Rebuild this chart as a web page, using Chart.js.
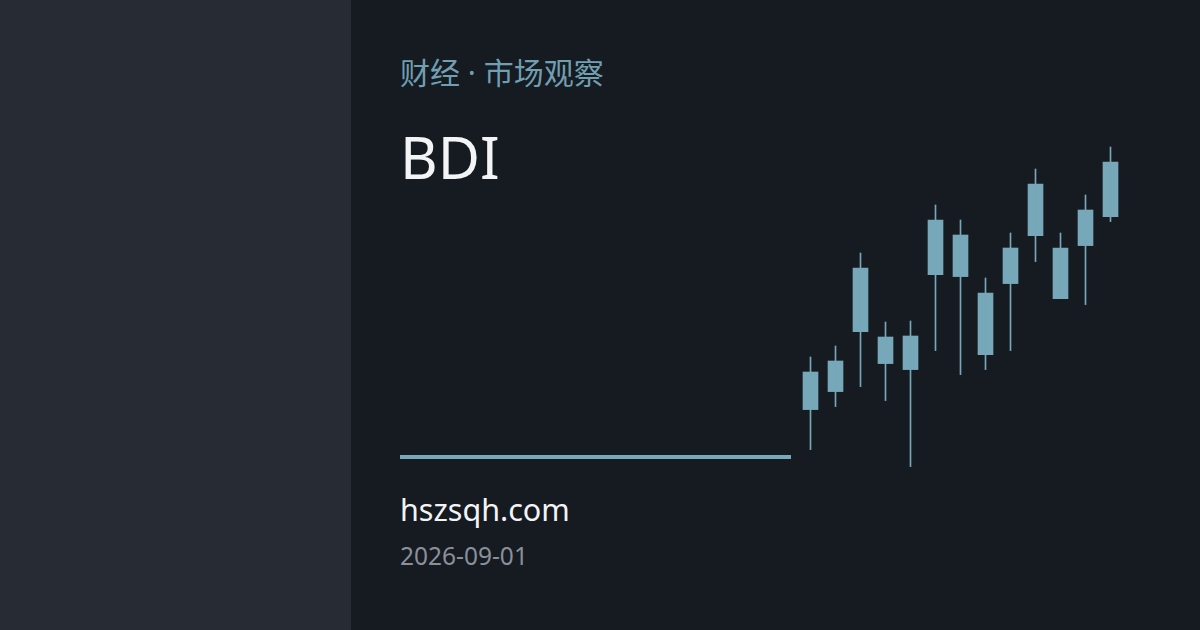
<!DOCTYPE html>
<html>
<head>
<meta charset="utf-8">
<script src="https://cdn.jsdelivr.net/npm/chart.js@4"></script>
<style>
  html, body { margin: 0; padding: 0; }
  body { width: 1200px; height: 630px; background: #161a21; position: relative; overflow: hidden; font-family: "Noto Sans", "Noto Sans CJK SC", sans-serif; }
  .side { position: absolute; left: 0; top: 0; width: 351px; height: 630px; background: #272b33; }
  .kicker { position: absolute; left: 400px; top: 55px; font-size: 30px; line-height: 1.2; color: #6f9fb1; }
  .title { position: absolute; left: 400px; top: 122px; font-size: 58px; color: #f2f4f6; line-height: 1.2; }
  .rule { position: absolute; left: 400px; top: 455px; width: 391px; height: 4px; background: #76a8b9; }
  .site { position: absolute; left: 400px; top: 488px; font-size: 30.5px; color: #f2f4f6; }
  .date { position: absolute; left: 400px; top: 539px; font-size: 24.5px; color: #8a9099; }
  #wrap { position: absolute; left: 797.8px; top: 140px; width: 325px; height: 340px; }
</style>
</head>
<body>
<div class="side"></div>
<div class="kicker">财经 · 市场观察</div>
<div class="title">BDI</div>
<div class="rule"></div>
<div class="site">hszsqh.com</div>
<div class="date">2026-09-01</div>
<div id="wrap"><canvas id="candles"></canvas></div>
<script>
// K线数据
var days  = ['1', '2', '3', '4', '5', '6', '7', '8', '9', '10', '11', '12', '13'];
var open  = [2302, 2392, 2692, 2532, 2502, 2977, 2967, 2577, 2932, 3172, 2857, 3122, 3267];
var close = [2490, 2545, 3010, 2665, 2670, 3250, 3175, 2885, 3110, 3430, 3110, 3300, 3540];
var low   = [2102, 2317, 2417, 2347, 2017, 2597, 2477, 2502, 2597, 3042, 2857, 2827, 3242];
var high  = [2565, 2620, 3085, 2740, 2745, 3325, 3250, 2960, 3185, 3505, 3185, 3375, 3615];

var candleColor = '#76a8b9';

var wicks = days.map(function(d, i){ return [low[i], high[i]]; });
var bodies = days.map(function(d, i){ return [open[i], close[i]]; });

var ctx = document.getElementById('candles').getContext('2d');
var chart = new Chart(ctx, {
  type: 'bar',
  data: {
    labels: days,
    datasets: [{
      data: wicks,
      backgroundColor: candleColor,
      barThickness: 1
    }, {
      data: bodies,
      backgroundColor: candleColor,
      barThickness: 15
    }]
  },
  options: {
    responsive: true,
    maintainAspectRatio: false,
    animation: false,
    layout: { padding: 0 },
    plugins: { legend: { display: false }, tooltip: { enabled: false } },
    datasets: { bar: { grouped: false } },
    scales: {
      x: { display: false },
      y: { display: false, min: 1950, max: 3650 }
    }
  }
});
</script>
</body>
</html>
